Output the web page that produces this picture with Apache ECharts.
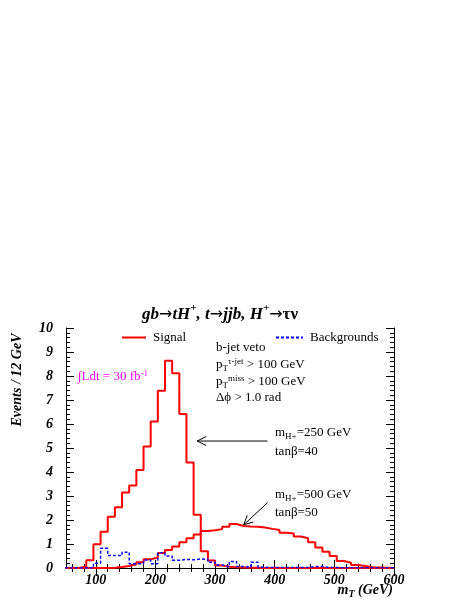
<!DOCTYPE html>
<html><head><meta charset="utf-8">
<script src="https://cdn.jsdelivr.net/npm/echarts@6/dist/echarts.min.js"></script>
<style>html,body{margin:0;padding:0;background:#fff}#c{width:473px;height:613px}</style>
</head><body><div id="c"></div>
<script>
// ---- data (bin left edges in GeV, bin width 12 GeV) ----
const binLeft = [48,60,72,84,96,108,120,132,144,156,168,180,192,204,216,228,240,252,264,276,288,300,312,324,336,348,360,372,384,396,408,420,432,444,456,468,480,492,504,516,528,540,552,564,576,588];
const binWidth = 12;
const signal250 = [0,0,0.06,0.32,0.99,1.51,2.14,2.53,3.15,3.44,4.08,5.06,6.10,7.39,8.64,8.11,6.42,4.40,2.22,0.70,0.31,0.10,0.05,0.03,0.02,0.01,0.01,0,0,0,0,0,0,0,0,0,0,0,0,0,0,0,0,0,0,0];
const signal500 = [0,0,0,0,0,0.005,0.01,0.04,0.08,0.15,0.24,0.36,0.44,0.63,0.75,0.90,1.07,1.24,1.40,1.54,1.57,1.62,1.72,1.83,1.75,1.73,1.72,1.69,1.63,1.58,1.47,1.44,1.31,1.24,1.07,0.85,0.68,0.50,0.29,0.22,0.125,0.08,0.03,0.02,0.01,0];
const backgrounds = [0,0,0,0,0.20,0.82,0.52,0.52,0.66,0.18,0.18,0.33,0.18,0.64,0.50,0.32,0.36,0.34,0.38,0.36,0.24,0.13,0.05,0.27,0.06,0.03,0.24,0.03,0.02,0.02,0.02,0.02,0.02,0.02,0.06,0.06,0.02,0.02,0.01,0.01,0.01,0.01,0.01,0.01,0.01,0.01];
const xTickLabels = [100,200,300,400,500,600];
const xMinorTicks = [60,80,120,140,160,180,220,240,260,280,320,340,360,380,420,440,460,480,520,540,560,580];
const yMinorTicks = [];
for (let k = 1; k < 50; k++) { if (k % 5) yMinorTicks.push(+(k * 0.2).toFixed(1)); }
const arrowsData = [
  {from: [388, 5.29], to: [270, 5.29]},
  {from: [388, 2.72], to: [348, 1.80]}
];

const F = 'Liberation Serif';
function steps(vals) {
  const pts = vals.map((v, i) => [binLeft[i], v]);
  pts.push([binLeft[binLeft.length - 1] + binWidth, vals[vals.length - 1]]);
  return pts;
}
const chart = echarts.init(document.getElementById('c'), null, {renderer: 'canvas'});
const lblStyle = {color: '#000', fontFamily: F, fontWeight: 'bold', fontStyle: 'italic', fontSize: 14};
function xAx(pos, major) {
  return {
    type: 'value', min: 50, max: 600, position: pos, gridIndex: 0,
    axisLine: {show: major, lineStyle: {color: '#000', width: 1}},
    axisTick: {show: true, inside: true, length: major ? 8 : 4, customValues: major ? xTickLabels : xMinorTicks, lineStyle: {color: '#000', width: 1}},
    axisLabel: (major && pos === 'bottom') ? Object.assign({customValues: xTickLabels, margin: 5}, lblStyle) : {show: false},
    splitLine: {show: false}
  };
}
function yAx(pos, major) {
  return {
    type: 'value', min: 0, max: 10, interval: 1, position: pos, gridIndex: 0,
    axisLine: {show: major, lineStyle: {color: '#000', width: 1}},
    axisTick: major ? {show: true, inside: true, length: 8, lineStyle: {color: '#000', width: 1}}
                    : {show: true, inside: true, length: 4, customValues: yMinorTicks, lineStyle: {color: '#000', width: 1}},
    axisLabel: (major && pos === 'left') ? Object.assign({margin: 13}, lblStyle) : {show: false},
    splitLine: {show: false}
  };
}
const richBase = {
  n: {fontFamily: F, fontSize: 13, lineHeight: 16, verticalAlign: 'middle'},
  sub: {fontFamily: F, fontSize: 9, lineHeight: 8, verticalAlign: 'bottom'},
  sup: {fontFamily: F, fontSize: 9, lineHeight: 8, verticalAlign: 'top'}
};
function txt(x, y, text, fill) {
  return {type: 'text', x: x, y: y, silent: true,
    style: {text: text, rich: richBase, fontFamily: F, fontSize: 13, fill: fill || '#000', align: 'left', verticalAlign: 'middle'}};
}
const graphics = [
  {type: 'text', x: 220, y: 313, silent: true, style: {
    text: '{b|gb}{s|→}{b|tH}{sup|+}{b|, t}{s|→}{b|jjb, H}{sup|+}{s|→}{g|τν}',
    align: 'center', verticalAlign: 'middle', fill: '#000',
    rich: {
      b: {fontFamily: F, fontWeight: 'bold', fontStyle: 'italic', fontSize: 17, lineHeight: 20, verticalAlign: 'bottom'},
      s: {fontFamily: 'DejaVu Sans', fontSize: 16, lineHeight: 20, verticalAlign: 'bottom'},
      g: {fontFamily: F, fontWeight: 'bold', fontSize: 17, lineHeight: 20, verticalAlign: 'bottom'},
      sup: {fontFamily: F, fontWeight: 'bold', fontStyle: 'italic', fontSize: 11, lineHeight: 10, verticalAlign: 'top'}
    }}},
  {type: 'text', x: 17, y: 380, rotation: Math.PI / 2, silent: true, style: {
    text: 'Events / 12 GeV', fontFamily: F, fontWeight: 'bold', fontStyle: 'italic', fontSize: 14,
    fill: '#000', align: 'center', verticalAlign: 'middle'}},
  {type: 'text', x: 393, y: 591, silent: true, style: {
    text: '{b|m}{bs|T}{b| (GeV)}', align: 'right', verticalAlign: 'middle', fill: '#000',
    rich: {
      b: {fontFamily: F, fontWeight: 'bold', fontStyle: 'italic', fontSize: 14, lineHeight: 16, verticalAlign: 'top'},
      bs: {fontFamily: F, fontWeight: 'bold', fontStyle: 'italic', fontSize: 10, lineHeight: 8, verticalAlign: 'bottom'}
    }}},
  txt(216, 348, '{n|b-jet veto}'),
  txt(216, 365, '{n|p}{sub|T}{sup|τ-jet}{n| > 100 GeV}'),
  txt(216, 382, '{n|p}{sub|T}{sup|miss}{n| > 100 GeV}'),
  txt(216, 398, '{n|Δϕ > 1.0 rad}'),
  txt(275, 433, '{n|m}{sub|H+}{n|=250 GeV}'),
  txt(275, 452, '{n|tanβ=40}'),
  txt(275, 495, '{n|m}{sub|H+}{n|=500 GeV}'),
  txt(275, 513, '{n|tanβ=50}'),
  txt(78, 377, '{n|∫Ldt = 30 fb}{sup|-1}', '#ff00ff')
];
const legendCommon = {top: 331, padding: 0, itemHeight: 14, itemStyle: {opacity: 0},
  textStyle: {fontFamily: F, fontSize: 13, color: '#000', padding: [0, 0, 0, 2]}};
const option = {
  animation: false,
  backgroundColor: '#fff',
  grid: {left: 66, right: 79, top: 328, bottom: 45, show: false},
  legend: [
    Object.assign({data: ['Signal'], left: 121, itemWidth: 24}, legendCommon),
    Object.assign({data: ['Backgrounds'], left: 275, itemWidth: 27}, legendCommon)
  ],
  xAxis: [xAx('bottom', true), xAx('bottom', false), xAx('top', true), xAx('top', false)],
  yAxis: [yAx('left', true), yAx('left', false), yAx('right', true), yAx('right', false)],
  series: [
    {name: 'Signal', type: 'line', step: 'end', xAxisIndex: 0, yAxisIndex: 0, symbol: 'none', clip: true,
     data: steps(signal250), lineStyle: {color: '#ff0000', width: 2}, itemStyle: {color: '#ff0000'}},
    {name: 'Signal500', type: 'line', step: 'end', xAxisIndex: 0, yAxisIndex: 0, symbol: 'none', clip: true,
     data: steps(signal500), lineStyle: {color: '#ff0000', width: 2}, itemStyle: {color: '#ff0000'}},
    {name: 'Backgrounds', type: 'line', step: 'end', xAxisIndex: 0, yAxisIndex: 0, symbol: 'none', clip: true,
     data: steps(backgrounds), lineStyle: {color: '#0000ff', width: 1.5, type: [3, 2]}, itemStyle: {color: '#0000ff'}}
  ],
  graphic: graphics
};
chart.setOption(option);
// arrows, positioned through the axes' own scales
const arrowEls = [];
arrowsData.forEach((a, i) => {
  const p0 = chart.convertToPixel({xAxisIndex: 0, yAxisIndex: 0}, a.from);
  const p1 = chart.convertToPixel({xAxisIndex: 0, yAxisIndex: 0}, a.to);
  const dx = p1[0] - p0[0], dy = p1[1] - p0[1];
  const L = Math.hypot(dx, dy), ux = dx / L, uy = dy / L, nx = -uy, ny = ux;
  const hl = 9, hw = 4.5;
  arrowEls.push({type: 'polyline', id: 'al' + i, silent: true, shape: {points: [p0, p1]}, style: {stroke: '#000', lineWidth: 1, fill: null}});
  arrowEls.push({type: 'polyline', id: 'ah' + i, silent: true, shape: {points: [
    [p1[0] - hl * ux + hw * nx, p1[1] - hl * uy + hw * ny], p1,
    [p1[0] - hl * ux - hw * nx, p1[1] - hl * uy - hw * ny]]}, style: {stroke: '#000', lineWidth: 1, fill: null}});
});
chart.setOption({graphic: graphics.concat(arrowEls)});
</script></body></html>
